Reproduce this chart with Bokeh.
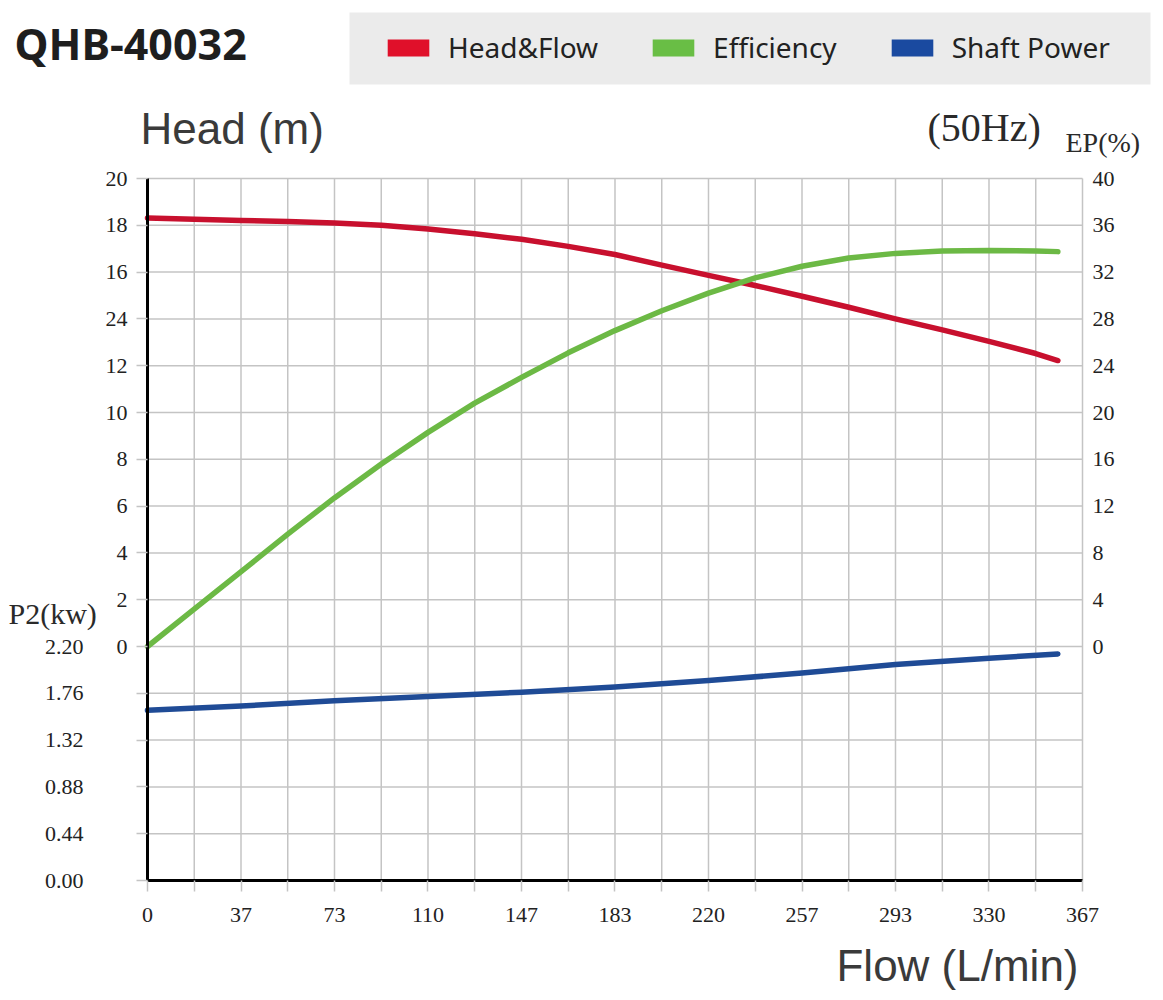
from bokeh.plotting import figure
from bokeh.models import (Range1d, LinearAxis, FixedTicker, Label, Legend,
                          LegendItem, BoxAnnotation)
from bokeh.embed import file_html
from bokeh.resources import INLINE

# ---------------- data ----------------
flow = [0, 18.3, 36.7, 55, 73.3, 91.7, 110, 128.3, 146.7, 165, 183.3,
        201.7, 220, 238.3, 256.7, 275, 293.3, 311.7, 330, 348.3, 357]
head = [18.31, 18.26, 18.21, 18.16, 18.10, 18.00, 17.84, 17.64, 17.40, 17.10, 16.75,
        16.30, 15.86, 15.43, 14.97, 14.50, 14.00, 13.53, 13.04, 12.52, 12.22]
efficiency = [0.0, 3.2, 6.4, 9.6, 12.7, 15.6, 18.3, 20.8, 23.0, 25.1, 27.0,
              28.7, 30.2, 31.5, 32.5, 33.2, 33.6, 33.8, 33.85, 33.8, 33.75]
power_flow = [0, 36.7, 73.3, 110, 146.7, 183.3, 220, 256.7, 293.3, 330, 357]
shaft_power = [1.60, 1.64, 1.69, 1.73, 1.77, 1.82, 1.88, 1.95, 2.03, 2.09, 2.13]

flow_tick_values = [0, 36.667, 73.333, 110, 146.667, 183.333, 220, 256.667, 293.333, 330, 366.667]
flow_tick_labels = ["0", "37", "73", "110", "147", "183", "220", "257", "293", "330", "367"]
head_tick_values = [0, 2, 4, 6, 8, 10, 12, 14, 16, 18, 20]
head_tick_labels = ["0", "2", "4", "6", "8", "10", "12", "24", "16", "18", "20"]
p2_tick_values = [0.0, 0.44, 0.88, 1.32, 1.76, 2.2]
p2_tick_labels = ["0.00", "0.44", "0.88", "1.32", "1.76", "2.20"]
ep_tick_values = [0, 4, 8, 12, 16, 20, 24, 28, 32, 36, 40]
ep_tick_labels = ["0", "4", "8", "12", "16", "20", "24", "28", "32", "36", "40"]

series_names = ["Head&Flow", "Efficiency", "Shaft Power"]
line_colors = ["#c8102e", "#6cb945", "#1f4b96"]
legend_colors = ["#e0102a", "#69be45", "#1a4aa0"]

FLOW_MAX = 366.667
HEAD_MIN, HEAD_MAX = -10, 20       # head axis span incl. the P2 area below 0

# ---------------- geometry (canvas pixels) ----------------
W, H = 1155, 992
X0, X1 = 147, 1082      # plot area left / right
YT, YB = 178, 880       # plot area top / bottom
pxf = (X1 - X0) / FLOW_MAX
pxh = (YB - YT) / (HEAD_MAX - HEAD_MIN)
x_start, x_end = -X0 / pxf, (W - X0) / pxf
y_start, y_end = HEAD_MIN - (H - YB) / pxh, HEAD_MAX + YT / pxh

p = figure(width=W, height=H, x_range=Range1d(x_start, x_end), y_range=Range1d(y_start, y_end),
           x_axis_type=None, y_axis_type=None,
           output_backend="svg", toolbar_location=None,
           min_border=0, min_border_left=0, min_border_right=0,
           min_border_top=0, min_border_bottom=0)
# EP (%) = 2 * head ; P2 (kW) = (head + 10) * 0.22
p.extra_y_ranges = {"ep": Range1d(2 * y_start, 2 * y_end),
                    "p2": Range1d((y_start + 10) * 0.22, (y_end + 10) * 0.22)}
p.outline_line_color = None
p.background_fill_color = "white"
p.border_fill_color = "white"
p.grid.visible = False

GRID = "#c4c4c4"
TICKFONT = "Liberation Serif"
grid_y = list(range(HEAD_MIN, HEAD_MAX + 1, 2))
x_minor = [(a + b) / 2 for a, b in zip(flow_tick_values[:-1], flow_tick_values[1:])]
grid_x = sorted(flow_tick_values + x_minor)

# grid lines limited to the plot area
p.segment(x0=grid_x, x1=grid_x, y0=[HEAD_MIN] * len(grid_x), y1=[HEAD_MAX] * len(grid_x),
          line_color=GRID, line_width=1.5)
p.segment(x0=[0] * len(grid_y), x1=[FLOW_MAX] * len(grid_y), y0=grid_y, y1=grid_y,
          line_color=GRID, line_width=1.5)

def style_labels(ax):
    ax.major_label_text_font = TICKFONT
    ax.major_label_text_font_size = "22px"
    ax.major_label_text_color = "#222222"

# head axis
ov = {t: "" for t in grid_y if t < 0}
ov.update(dict(zip(head_tick_values, head_tick_labels)))
ya = LinearAxis(fixed_location=0, bounds=(HEAD_MIN, HEAD_MAX),
                ticker=FixedTicker(ticks=grid_y), major_label_overrides=ov,
                axis_line_color="black", axis_line_width=3,
                major_tick_line_color=GRID, major_tick_line_width=1.5,
                major_tick_out=11, major_tick_in=0, minor_tick_line_color=None,
                major_label_standoff=9)
style_labels(ya)
p.add_layout(ya, "left")

# P2 axis
p2ax = LinearAxis(y_range_name="p2", fixed_location=0, bounds=(0, 2.2),
                  ticker=FixedTicker(ticks=p2_tick_values),
                  major_label_overrides=dict(zip(p2_tick_values, p2_tick_labels)),
                  axis_line_color=None, major_tick_line_color=None, minor_tick_line_color=None,
                  major_tick_out=0, major_tick_in=0, major_label_standoff=64)
style_labels(p2ax)
p.add_layout(p2ax, "left")

# EP axis
epax = LinearAxis(y_range_name="ep", fixed_location=FLOW_MAX, bounds=(0, 40),
                  ticker=FixedTicker(ticks=ep_tick_values),
                  major_label_overrides=dict(zip(ep_tick_values, ep_tick_labels)),
                  axis_line_color=None, major_tick_line_color=None, minor_tick_line_color=None,
                  major_tick_out=0, major_tick_in=0, major_label_standoff=10)
style_labels(epax)
p.add_layout(epax, "right")

# flow axis
xa = LinearAxis(fixed_location=HEAD_MIN, bounds=(0, FLOW_MAX),
                ticker=FixedTicker(ticks=flow_tick_values, minor_ticks=x_minor),
                major_label_overrides=dict(zip(flow_tick_values, flow_tick_labels)),
                axis_line_color="black", axis_line_width=3,
                major_tick_line_color=GRID, major_tick_line_width=1.5,
                major_tick_out=11, major_tick_in=0,
                minor_tick_line_color=GRID, minor_tick_line_width=1.5,
                minor_tick_out=11, minor_tick_in=0, major_label_standoff=16)
style_labels(xa)
p.add_layout(xa, "below")

# curves
p.line(flow, head, line_color=line_colors[0], line_width=5.5, line_cap="round", line_join="round")
p.line(flow, efficiency, y_range_name="ep", line_color=line_colors[1], line_width=5.5,
       line_cap="round", line_join="round")
p.line(power_flow, shaft_power, y_range_name="p2", line_color=line_colors[2], line_width=5.5,
       line_cap="round", line_join="round")

# legend swatches: zero-area quads, used only for their legend glyph
swatches = [p.quad(left=[0], right=[0], top=[0], bottom=[0], fill_color=c, line_color=None)
            for c in legend_colors]

# legend background box
p.add_layout(BoxAnnotation(left=349, right=1150, top=H - 12, bottom=H - 84,
                           left_units="screen", right_units="screen",
                           top_units="screen", bottom_units="screen",
                           fill_color="#ebebeb", fill_alpha=1.0, line_color=None))

legend = Legend(items=[LegendItem(label=n, renderers=[r]) for n, r in zip(series_names, swatches)],
                location=(382, H - 66), orientation="horizontal", padding=0, margin=0,
                spacing=49, label_standoff=14, glyph_width=52, glyph_height=21,
                background_fill_alpha=0, border_line_color=None,
                inactive_fill_alpha=0,
                label_text_font="Noto Sans", label_text_font_size="28px",
                label_text_color="#222222")
p.add_layout(legend, "center")

# texts (x from left; baseline given from the top, corrected for Bokeh's baseline box)
def lab(text, x, base_from_top, font, size, color="#333333", style="normal", align="left"):
    p.add_layout(Label(x=x, y=H - base_from_top + 0.35 * size, x_units="screen", y_units="screen",
                       text=text, text_font=font, text_font_size=f"{size}px", text_color=color,
                       text_font_style=style, text_align=align, text_baseline="alphabetic"))

lab("QHB-40032", 14, 58, "Noto Sans", 43, color="#1e1e1e", style="bold")
lab("Head (m)", 140, 143, "Liberation Sans", 44, color="#3a3a3a")
lab("(50Hz)", 927, 141, "Liberation Serif", 40, color="#2a2a2a")
lab("EP(%)", 1065, 152, "Liberation Serif", 28, color="#2a2a2a")
lab("P2(kw)", 8, 623, "Liberation Serif", 30, color="#2a2a2a")
lab("Flow (L/min)", 1078, 980, "Liberation Sans", 44, color="#3a3a3a", align="right")

open("out.html", "w").write(file_html(p, INLINE))
